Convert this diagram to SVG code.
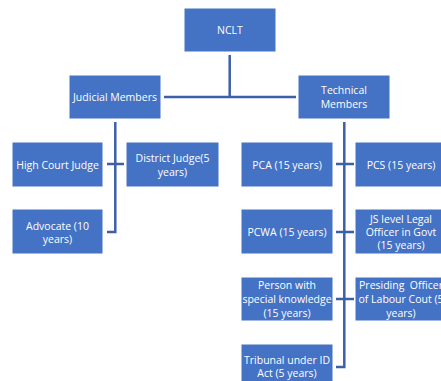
<svg xmlns="http://www.w3.org/2000/svg" width="441" height="381" viewBox="0 0 441 381">
<style>
.box{fill:#4472C4;stroke:#ffffff;stroke-width:1}
.t{fill:#ffffff;font-family:"Open Sans","Liberation Sans",sans-serif;font-size:10.5px;text-anchor:middle;dominant-baseline:central}
.c{fill:none;stroke:#3B60A8;stroke-width:2.5}
</style>
<rect width="441" height="381" fill="#ffffff"/>
<g id="connectors">
<path class="c" d="M229.7,55 V97 M164,97 H296"/>
<path class="c" d="M115.3,122 V232 H107 M107,164 H124"/>
<path class="c" d="M344.3,122 V367 H336 M336,164 H354 M336,232 H354 M336,299 H354"/>
</g>
<g id="nclt"><rect class="box" x="184" y="8" width="92" height="44"/><text class="t" x="230" y="30">NCLT</text></g>
<g id="judicial"><rect class="box" x="69" y="75" width="92" height="44"/><text class="t" x="115" y="97">Judicial Members</text></g>
<g id="technical"><rect class="box" x="298" y="75" width="92" height="44"/><text class="t" x="344" y="90">Technical</text><text class="t" x="344" y="104">Members</text></g>
<g id="highcourt"><rect class="box" x="12" y="142" width="91" height="45"/><text class="t" x="57.5" y="165">High Court Judge</text></g>
<g id="district"><rect class="box" x="126" y="142" width="93" height="45"/><text class="t" x="172.5" y="158">District Judge(5</text><text class="t" x="172.5" y="172">years)</text></g>
<g id="advocate"><rect class="box" x="12" y="209" width="91" height="45"/><text class="t" x="57.5" y="226">Advocate (10</text><text class="t" x="57.5" y="239">years)</text></g>
<g id="pca"><rect class="box" x="241" y="142" width="92" height="45"/><text class="t" x="287" y="165">PCA (15 years)</text></g>
<g id="pcs"><rect class="box" x="355" y="142" width="92" height="45"/><text class="t" x="401" y="165">PCS (15 years)</text></g>
<g id="pcwa"><rect class="box" x="241" y="209" width="92" height="45"/><text class="t" x="287" y="232">PCWA (15 years)</text></g>
<g id="jslevel"><rect class="box" x="355" y="209" width="92" height="45"/><text class="t" x="401" y="219">JS level Legal</text><text class="t" x="401" y="232">Officer in Govt</text><text class="t" x="401" y="245">(15 years)</text></g>
<g id="person"><rect class="box" x="241" y="277" width="92" height="44"/><text class="t" x="287" y="285">Person with</text><text class="t" x="287" y="299">special knowledge</text><text class="t" x="287" y="313">(15 years)</text></g>
<g id="presiding"><rect class="box" x="355" y="277" width="92" height="44"/><text class="t" x="401" y="285" xml:space="preserve">Presiding  Officer</text><text class="t" x="401" y="299">of Labour Cout (5</text><text class="t" x="401" y="313">years)</text></g>
<g id="tribunal"><rect class="box" x="241" y="344" width="92" height="44"/><text class="t" x="287" y="360">Tribunal under ID</text><text class="t" x="287" y="373">Act (5 years)</text></g>
</svg>
